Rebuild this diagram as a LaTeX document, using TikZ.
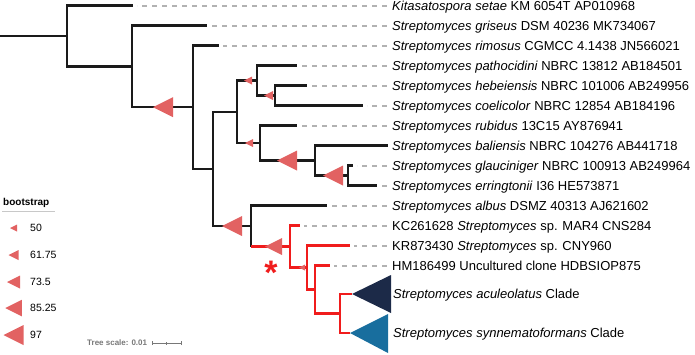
\documentclass[tikz,border=0pt]{standalone}
\usepackage{fontspec}
\setmainfont{Liberation Sans}
\usepackage{xcolor}
\usepackage{tikz}
\usetikzlibrary{positioning}
\definecolor{TreeBlack}{RGB}{26, 26, 26}
\definecolor{CladeRed}{RGB}{240, 28, 28}
\definecolor{BootRed}{RGB}{226, 98, 98}
\definecolor{LeaderGray}{RGB}{178, 178, 178}
\definecolor{RuleGray}{RGB}{200, 200, 200}
\definecolor{ScaleGray}{RGB}{120, 120, 120}
\definecolor{CladeNavy}{RGB}{28, 42, 72}
\definecolor{CladeTeal}{RGB}{24, 110, 158}
\tikzset{
    branch/.style={draw=TreeBlack, line width=2.2pt},
    redbranch/.style={draw=CladeRed, line width=2.2pt},
    leader/.style={draw=LeaderGray, line width=2pt, dash pattern=on 5pt off 5pt, shorten <=5pt, shorten >=4pt},
    leaflabel/.style={anchor=west, inner sep=0pt, text height=9.4pt, text depth=0pt, font=\fontsize{13}{15}\selectfont},
    legendlabel/.style={anchor=west, inner sep=0pt, text height=7.6pt, text depth=0pt, font=\fontsize{10.5}{12}\selectfont},
    scaletick/.style={draw=ScaleGray, line width=0.8pt},
}
% bootstrap marker: right edge x, y, size
\newcommand{\bootmark}[3]{\fill[BootRed] (#1,#2) ++(0,-#3/2) -- ++(0,#3) -- ++(-#3,-#3/2) -- cycle;}

\begin{document}
\begin{tikzpicture}[x=1pt, y=-1pt]
    \useasboundingbox (0,0) rectangle (695,354);

    % internal nodes
    \coordinate (root) at (0,35.9);
    \coordinate (nA) at (67,35.9);
    \coordinate (nB) at (132,66.4);
    \coordinate (nC) at (193,107.2);
    \coordinate (nD) at (213,168.9);
    \coordinate (nE) at (237,111.8);
    \coordinate (nG) at (257,80.5);
    \coordinate (nI) at (275,95.5);
    \coordinate (nH) at (260,143);
    \coordinate (nJ) at (315,160.5);
    \coordinate (nK) at (348,175.5);
    \coordinate (nF) at (251,226);
    \coordinate (nL) at (290,246.5);
    \coordinate (nM) at (307,267.5);
    \coordinate (nN) at (315,289.5);
    \coordinate (nO) at (340,313.5);

    % leaf tips
    \coordinate (tkit) at (133,5.5);
    \coordinate (tgri) at (207,25.5);
    \coordinate (trim) at (219,45.5);
    \coordinate (tpat) at (297,65.5);
    \coordinate (theb) at (307,85.5);
    \coordinate (tcoe) at (363,105.5);
    \coordinate (trub) at (297,125.5);
    \coordinate (tbal) at (388,145.5);
    \coordinate (tgla) at (353,165.5);
    \coordinate (terr) at (377,185.5);
    \coordinate (talb) at (327,205.5);
    \coordinate (tkc) at (300,225.5);
    \coordinate (tkr) at (350,245.5);
    \coordinate (thm) at (330,265.5);
    \coordinate (cacu) at (352,294);
    \coordinate (csyn) at (350,333);

    % labels
    \node[leaflabel] (lkit) at (392,5.5) {\textit{Kitasatospora setae} KM 6054T AP010968};
    \node[leaflabel] (lgri) at (392,25.5) {\textit{Streptomyces griseus} DSM 40236 MK734067};
    \node[leaflabel] (lrim) at (392,45.5) {\textit{Streptomyces rimosus} CGMCC 4.1438 JN566021};
    \node[leaflabel] (lpat) at (392,65.5) {\textit{Streptomyces pathocidini} NBRC 13812 AB184501};
    \node[leaflabel] (lheb) at (392,85.5) {\textit{Streptomyces hebeiensis} NBRC 101006 AB249956};
    \node[leaflabel] (lcoe) at (392,105.5) {\textit{Streptomyces coelicolor} NBRC 12854 AB184196};
    \node[leaflabel] (lrub) at (392,125.5) {\textit{Streptomyces rubidus} 13C15 AY876941};
    \node[leaflabel] (lbal) at (392,145.5) {\textit{Streptomyces baliensis} NBRC 104276 AB441718};
    \node[leaflabel] (lgla) at (392,165.5) {\textit{Streptomyces glauciniger} NBRC 100913 AB249964};
    \node[leaflabel] (lerr) at (392,185.5) {\textit{Streptomyces erringtonii} I36 HE573871};
    \node[leaflabel] (lalb) at (392,205.5) {\textit{Streptomyces albus} DSMZ 40313 AJ621602};
    \node[leaflabel] (lkc) at (392,225.5) {KC261628 \textit{Streptomyces} sp. MAR4 CNS284};
    \node[leaflabel] (lkr) at (392,245.5) {KR873430 \textit{Streptomyces} sp. CNY960};
    \node[leaflabel] (lhm) at (392,265.5) {HM186499 Uncultured clone HDBSIOP875};
    \node[leaflabel] (lacu) at (393,294) {\textit{Streptomyces aculeolatus} Clade};
    \node[leaflabel] (lsyn) at (393,333) {\textit{Streptomyces synnematoformans} Clade};

    % dashed leaders
    \foreach \leaf in {kit, gri, rim, pat, heb, coe, rub, gla, err, alb, kc, kr, hm}
        \draw[leader] (l\leaf.west) -- (t\leaf);

    % black branches
    \draw[branch] (root) -- (nA);
    \draw[branch] (nA) |- (tkit);
    \draw[branch] (nA) |- (nB);
    \draw[branch] (nB) |- (tgri);
    \draw[branch] (nB) |- (nC);
    \draw[branch] (nC) |- (trim);
    \draw[branch] (nC) |- (nD);
    \draw[branch] (nD) |- (nE);
    \draw[branch] (nD) |- (nF);
    \draw[branch] (nE) |- (nG);
    \draw[branch] (nE) |- (nH);
    \draw[branch] (nG) |- (tpat);
    \draw[branch] (nG) |- (nI);
    \draw[branch] (nI) |- (theb);
    \draw[branch] (nI) |- (tcoe);
    \draw[branch] (nH) |- (trub);
    \draw[branch] (nH) |- (nJ);
    \draw[branch] (nJ) |- (tbal);
    \draw[branch] (nJ) |- (nK);
    \draw[branch] (nK) |- (tgla);
    \draw[branch] (nK) |- (terr);
    \draw[branch] (nF) |- (talb);
    \draw[branch] (nF) -- (nF |- nL);

    % red branches
    \draw[redbranch] (nF |- nL) -- (nL);
    \draw[redbranch] (nL) |- (tkc);
    \draw[redbranch] (nL) |- (nM);
    \draw[redbranch] (nM) |- (tkr);
    \draw[redbranch] (nM) |- (nN);
    \draw[redbranch] (nN) |- (thm);
    \draw[redbranch] (nN) |- (nO);
    \draw[redbranch] (nO) |- (cacu);
    \draw[redbranch] (nO) |- (csyn);

    % collapsed clades
    \fill[CladeNavy] (cacu) -- (391,275) -- (391,313) -- cycle;
    \fill[CladeTeal] (csyn) -- (388,314) -- (388,353) -- cycle;

    % bootstrap markers
    \bootmark{173}{107.2}{20}
    \bootmark{252}{80.5}{8}
    \bootmark{273}{95.5}{9}
    \bootmark{253}{143}{8}
    \bootmark{297}{160.5}{20}
    \bootmark{343}{175.5}{20}
    \bootmark{242}{226}{20}
    \bootmark{282}{246.5}{17}
    \bootmark{305}{267.5}{6}

    \node[font=\fontsize{34}{34}\selectfont\bfseries, text=CladeRed, anchor=base, inner sep=0pt] (star) at (271,284) {*};

    % legend
    \node[anchor=west, inner sep=0pt, font=\fontsize{10}{12}\selectfont\bfseries] (legtitle) at (3,203) {bootstrap};
    \draw[RuleGray, line width=1pt] (2,211) -- (55,211);
    \foreach \val/\yy/\sz [count=\i] in {50/228/7, 61.75/255/10, 73.5/282/13, 85.25/308/16.5, 97/335/20}{
        \bootmark{13.5+\sz/2}{\yy}{\sz}
        \node[legendlabel] (leg\i) at (30,\yy) {\val};
    }

    % tree scale
    \node[anchor=west, inner sep=0pt, text=ScaleGray, font=\fontsize{8}{9}\selectfont\bfseries] (tscale) at (87,343) {Tree scale: 0.01};
    \coordinate[right=5pt of tscale] (barL);
    \coordinate[right=14.5pt of barL] (barM);
    \coordinate[right=29pt of barL] (barR);
    \draw[scaletick] (barL) -- (barR);
    \draw[scaletick] ([yshift=-2pt]barL) -- ([yshift=2pt]barL);
    \draw[scaletick] ([yshift=-1.5pt]barM) -- ([yshift=1.5pt]barM);
    \draw[scaletick] ([yshift=-2pt]barR) -- ([yshift=2pt]barR);
\end{tikzpicture}
\end{document}
